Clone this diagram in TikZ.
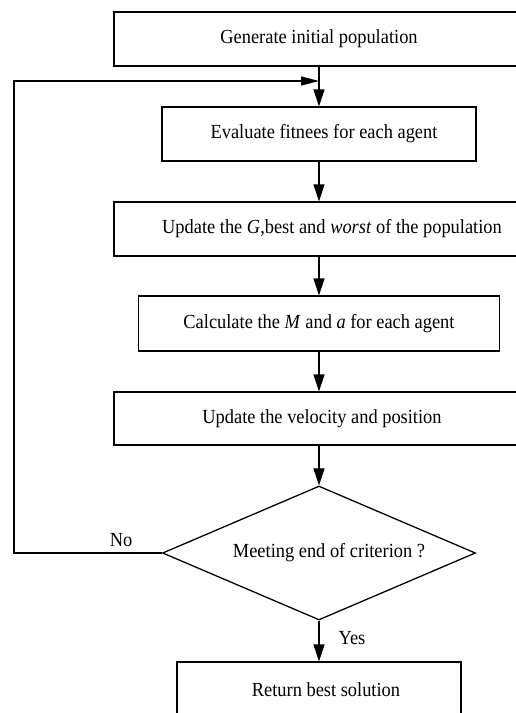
\documentclass[tikz,border=0pt]{standalone}
\usepackage{fontspec}
\setmainfont{Liberation Serif}[FakeStretch=0.92]
\usetikzlibrary{shapes.geometric,arrows.meta}
\begin{document}
\begin{tikzpicture}[x=1pt,y=-1pt,
  box/.style={draw, line width=1.2pt, rectangle, inner sep=0pt, font=\fontsize{20}{22}\selectfont},
  decision/.style={draw, line width=1.3pt, diamond, aspect=2.336, inner sep=0pt, font=\fontsize{20}{22}\selectfont},
  arr/.style={line width=1.2pt, -{Triangle[length=17pt,width=11pt]}},
  lbl/.style={font=\fontsize{20}{22}\selectfont, inner sep=0pt}]
\useasboundingbox (0,0) rectangle (516,713);
\clip (0,0) rectangle (516,713);
\fill[white] (0,0) rectangle (516,713);

\node[box, minimum width=410pt, minimum height=54pt] (b1) at (319,39) {Generate initial population};
\node[box, minimum width=314pt, minimum height=54pt] (b2) at (319,134) {\hspace*{10pt}Evaluate fitnees for each agent};
\node[box, minimum width=410pt, minimum height=54pt] (b3) at (319,229) {\hspace*{26pt}Update the \textit{G},best and \textit{worst} of the population};
\node[box, minimum width=361pt, minimum height=55pt] (b4) at (319,323.5) {Calculate the \textit{M} and \textit{a} for each agent};
\node[box, minimum width=410pt, minimum height=53pt] (b5) at (319,418.5) {\hspace*{6pt}Update the velocity and position};
\node[decision, minimum width=313pt, minimum height=134pt] (d) at (319,553) {\hspace*{20pt}Meeting end of criterion ?};
\node[box, minimum width=284pt, minimum height=56pt] (b6) at (319,690) {\hspace*{14pt}Return best solution};

\coordinate (fbl) at (14,553);
\coordinate (fbt) at (14,81);
\coordinate (join) at (319,81);

\draw[arr] (b1.south) -- (b2.north);
\draw[arr] (b2.south) -- (b3.north);
\draw[arr] (b3.south) -- (b4.north);
\draw[arr] (b4.south) -- (b5.north);
\draw[arr] (b5.south) -- (d.north);
\draw[arr] (d.south) -- (b6.north);
\draw[line width=1.2pt, -{Triangle[length=18pt,width=9pt]}] (d.west) -- (fbl) -- (fbt) -- (join);

\node[lbl] (no) at (121,540) {No};
\node[lbl] (yes) at (352,638) {Yes};
\end{tikzpicture}
\end{document}
